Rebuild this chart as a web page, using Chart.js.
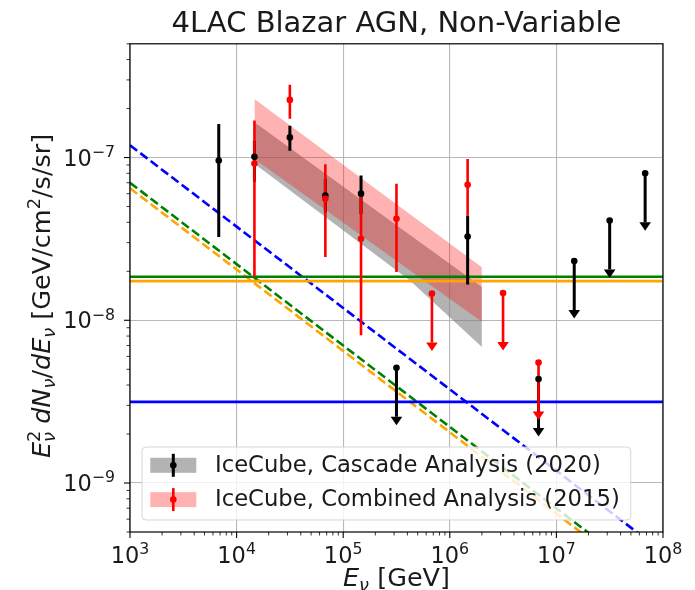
<!DOCTYPE html>
<html>
<head>
<meta charset="utf-8">
<title>4LAC Blazar AGN, Non-Variable</title>
<script src="https://cdn.jsdelivr.net/npm/chart.js@4.4.0/dist/chart.umd.min.js"></script>
<style>
    body { margin: 0; background: #ffffff; }
    #wrap { width: 695px; height: 590px; position: relative; }
</style>
</head>
<body>
<div id="wrap"><canvas id="fluxChart"></canvas></div>
<script>
// data ----------------------------------------------------------------------------

// IceCube cascade analysis (2020): measured bins and upper limits
const cascadeEnergy = [6.8e3, 1.47e4, 3.16e4, 6.8e4, 1.47e5, 1.47e6];
const cascadeFlux   = [9.6e-8, 1.01e-7, 1.33e-7, 5.85e-8, 6.0e-8, 3.27e-8];
const cascadeLow    = [3.25e-8, 7.1e-8, 1.1e-7, 4.6e-8, 4.5e-8, 1.66e-8];
const cascadeHigh   = [1.61e-7, 1.27e-7, 1.57e-7, 7.4e-8, 7.76e-8, 4.4e-8];
const cascadeLimitEnergy = [3.16e5, 6.8e6, 1.47e7, 3.16e7, 6.8e7];
const cascadeLimit       = [5.1e-9, 4.35e-9, 2.31e-8, 4.1e-8, 8.0e-8];

// IceCube combined analysis (2015)
const combinedEnergy = [1.47e4, 3.16e4, 6.8e4, 1.47e5, 3.16e5, 1.47e6];
const combinedFlux   = [9.2e-8, 2.26e-7, 5.58e-8, 3.17e-8, 4.21e-8, 6.8e-8];
const combinedLow    = [1.85e-8, 1.73e-7, 2.45e-8, 8.1e-9, 1.98e-8, 4.4e-8];
const combinedHigh   = [1.69e-7, 2.8e-7, 9.1e-8, 6.0e-8, 6.9e-8, 9.8e-8];
const combinedLimitEnergy = [6.8e5, 3.16e6, 6.8e6];
const combinedLimit       = [1.46e-8, 1.47e-8, 5.5e-9];

// power-law fit bands
const bandEnergy       = [1.47e4, 4.2e5, 2.0e6];
const cascadeBandHigh  = [1.65e-7, 3.35e-8, 1.6e-8];
const cascadeBandLow   = [9.15e-8, 1.76e-8, 6.85e-9];
const combinedBandHigh = [2.29e-7, 4.5e-8, 2.12e-8];
const combinedBandLow  = [9.8e-8, 2.03e-8, 9.8e-9];

// stacking limits (solid) and E^-2.5 model lines (dashed), given at both plot edges
const lineEnergy  = [1e3, 1e8];
const greenLimit  = [1.85e-8, 1.85e-8];
const orangeLimit = [1.74e-8, 1.74e-8];
const blueLimit   = [3.15e-9, 3.15e-9];
const blueModel   = [1.19e-7, 3.76e-10];
const greenModel  = [7.0e-8, 2.21e-10];
const orangeModel = [6.48e-8, 2.05e-10];

// axes
const xRange = [1e3, 1e8];
const yRange = [5e-10, 5e-7];
const xTickExp = [3, 4, 5, 6, 7, 8];
const yTickExp = [-9, -8, -7];

const legendLabels = ['IceCube, Cascade Analysis (2020)', 'IceCube, Combined Analysis (2015)'];

// ---------------------------------------------------------------------------------

const FONT = '"DejaVu Sans", sans-serif';
const limitDrop = 0.5;   // upper limit arrows go down to half the value

function pairs(xs, ys) {
    return xs.map((x, i) => ({ x: x, y: ys[i] }));
}

function isPow10(v) {
    const l = Math.log10(v);
    return Math.abs(l - Math.round(l)) < 1e-6;
}

function gridColor(ctx) {
    return ctx.tick && isPow10(ctx.tick.value) ? 'rgba(176,176,176,0.9)' : 'rgba(0,0,0,0)';
}

function bandSet(data, color, fill, order) {
    return { data: data, borderWidth: 0, pointRadius: 0, backgroundColor: color, fill: fill, order: order };
}

function lineSet(data, color, dashed) {
    return {
        data: data, borderColor: color, borderWidth: 2.6, pointRadius: 0, fill: false,
        borderDash: dashed ? [9, 4] : [], borderCapStyle: 'butt', order: 5
    };
}

// error bars and arrows, drawn just before the marker datasets
function drawErrorBars(chart, xs, lows, highs, color, width) {
    const { ctx, scales: { x, y } } = chart;
    ctx.strokeStyle = color;
    ctx.lineWidth = width;
    xs.forEach((e, i) => {
        const px = x.getPixelForValue(e);
        ctx.beginPath();
        ctx.moveTo(px, y.getPixelForValue(lows[i]));
        ctx.lineTo(px, y.getPixelForValue(highs[i]));
        ctx.stroke();
    });
}

function drawUpperLimits(chart, xs, vals, color, width) {
    const { ctx, scales: { x, y } } = chart;
    ctx.strokeStyle = color;
    ctx.fillStyle = color;
    ctx.lineWidth = width;
    xs.forEach((e, i) => {
        const px = x.getPixelForValue(e);
        const top = y.getPixelForValue(vals[i]);
        const base = y.getPixelForValue(vals[i] * limitDrop);
        ctx.beginPath();
        ctx.moveTo(px, top);
        ctx.lineTo(px, base);
        ctx.stroke();
        ctx.beginPath();
        ctx.moveTo(px - 5.8, base);
        ctx.lineTo(px + 5.8, base);
        ctx.lineTo(px, base + 8.5);
        ctx.closePath();
        ctx.fill();
    });
}

// small mathtext-like writer: parts = [{t, it, small, dy, keep}], dy in units of the size
function partFont(p, size) {
    return (p.it ? 'italic ' : '') + (p.small ? size * 0.7 : size) + 'px ' + FONT;
}

function richWidth(ctx, parts, size) {
    let w = 0;
    parts.forEach(p => {
        ctx.font = partFont(p, size);
        if (!p.keep) w += ctx.measureText(p.t).width;
    });
    return w;
}

function drawRich(ctx, parts, size, x, baseline) {
    let cx = x;
    parts.forEach(p => {
        ctx.font = partFont(p, size);
        ctx.fillText(p.t, cx, baseline + (p.dy || 0) * size);
        if (!p.keep) cx += ctx.measureText(p.t).width;
    });
}

function powParts(exp) {
    return [{ t: '10' }, { t: (exp < 0 ? '\u2212' : '') + Math.abs(exp), small: true, dy: -0.39 }];
}

const xTitle = [{ t: 'E', it: true }, { t: '\u03bd', it: true, small: true, dy: 0.2 }, { t: ' [GeV]' }];
const yTitle = [
    { t: 'E', it: true }, { t: '2', small: true, dy: -0.4, keep: true }, { t: '\u03bd', it: true, small: true, dy: 0.2 },
    { t: ' d', it: true }, { t: 'N', it: true }, { t: '\u03bd', it: true, small: true, dy: 0.2 },
    { t: '/' }, { t: 'dE', it: true }, { t: '\u03bd', it: true, small: true, dy: 0.2 },
    { t: ' [GeV/cm' }, { t: '2', small: true, dy: -0.4 }, { t: '/s/sr]' }
];

const TICK_SIZE = 22.5;
const LABEL_SIZE = 25.5;
const LEGEND_SIZE = 22.7;

function drawLegend(chart) {
    const { ctx, chartArea: a } = chart;
    ctx.save();
    ctx.font = LEGEND_SIZE + 'px ' + FONT;
    const textW = Math.max(...legendLabels.map(t => ctx.measureText(t).width));
    const left = a.left + 12, top = a.bottom - 85, w = 73 + textW + 11, h = 73, r = 4;
    ctx.beginPath();
    ctx.moveTo(left + r, top);
    ctx.arcTo(left + w, top, left + w, top + h, r);
    ctx.arcTo(left + w, top + h, left, top + h, r);
    ctx.arcTo(left, top + h, left, top, r);
    ctx.arcTo(left, top, left + w, top, r);
    ctx.closePath();
    ctx.fillStyle = 'rgba(255,255,255,0.8)';
    ctx.fill();
    ctx.strokeStyle = 'rgba(204,204,204,0.8)';
    ctx.lineWidth = 1;
    ctx.stroke();

    const patch = ['rgba(128,128,128,0.6)', 'rgba(255,0,0,0.3)'];
    const mark = ['#000000', '#ff0000'];
    const widths = [3, 2.6];
    legendLabels.forEach((label, i) => {
        const rowY = top + 18.3 + i * 34.3;
        ctx.fillStyle = patch[i];
        ctx.fillRect(left + 8.3, rowY - 7.5, 46, 15);
        ctx.strokeStyle = mark[i];
        ctx.lineWidth = widths[i];
        ctx.beginPath();
        ctx.moveTo(left + 31.3, rowY - 11.5);
        ctx.lineTo(left + 31.3, rowY + 11.5);
        ctx.stroke();
        ctx.fillStyle = mark[i];
        ctx.beginPath();
        ctx.arc(left + 31.3, rowY, 3.3, 0, Math.PI * 2);
        ctx.fill();
        ctx.fillStyle = '#1a1a1a';
        ctx.font = LEGEND_SIZE + 'px ' + FONT;
        ctx.textBaseline = 'middle';
        ctx.fillText(label, left + 73, rowY + 1);
    });
    ctx.restore();
}

const fluxExtras = {
    id: 'fluxExtras',
    beforeDatasetDraw(chart, args) {
        // black markers are dataset 10: put all error bars right below them
        if (args.index !== 10) return;
        const { ctx, chartArea: a } = chart;
        ctx.save();
        ctx.beginPath();
        ctx.rect(a.left, a.top, a.right - a.left, a.bottom - a.top);
        ctx.clip();
        drawErrorBars(chart, cascadeEnergy, cascadeLow, cascadeHigh, '#000000', 3);
        drawUpperLimits(chart, cascadeLimitEnergy, cascadeLimit, '#000000', 3);
        drawErrorBars(chart, combinedEnergy, combinedLow, combinedHigh, '#ff0000', 2.6);
        drawUpperLimits(chart, combinedLimitEnergy, combinedLimit, '#ff0000', 2.6);
        ctx.restore();
    },
    afterDatasetsDraw(chart) {
        const { ctx, chartArea: a } = chart;
        ctx.save();
        ctx.strokeStyle = '#000000';
        ctx.lineWidth = 1.2;
        ctx.strokeRect(a.left, a.top, a.right - a.left, a.bottom - a.top);
        ctx.restore();
        drawLegend(chart);
    },
    afterDraw(chart) {
        const { ctx, chartArea: a, scales: { x, y } } = chart;
        ctx.save();
        ctx.strokeStyle = '#000000';
        // tick marks, major and minor, outside the frame
        for (let d = 3; d <= 8; d++) {
            for (let m = 1; m <= 9; m++) {
                const v = m * Math.pow(10, d);
                if (v > xRange[1] * 1.0001) break;
                const px = x.getPixelForValue(v);
                ctx.lineWidth = m === 1 ? 1.1 : 0.8;
                ctx.beginPath();
                ctx.moveTo(px, a.bottom);
                ctx.lineTo(px, a.bottom + (m === 1 ? 6 : 3.5));
                ctx.stroke();
            }
        }
        for (let d = -10; d <= -7; d++) {
            for (let m = 1; m <= 9; m++) {
                const v = m * Math.pow(10, d);
                if (v < yRange[0] * 0.9999 || v > yRange[1] * 1.0001) continue;
                const py = y.getPixelForValue(v);
                ctx.lineWidth = m === 1 ? 1.1 : 0.8;
                ctx.beginPath();
                ctx.moveTo(a.left, py);
                ctx.lineTo(a.left - (m === 1 ? 6 : 3.5), py);
                ctx.stroke();
            }
        }
        // tick labels
        ctx.fillStyle = '#1a1a1a';
        ctx.textBaseline = 'alphabetic';
        ctx.textAlign = 'left';
        xTickExp.forEach(e => {
            const parts = powParts(e);
            const w = richWidth(ctx, parts, TICK_SIZE);
            drawRich(ctx, parts, TICK_SIZE, x.getPixelForValue(Math.pow(10, e)) - w / 2, a.bottom + 31);
        });
        yTickExp.forEach(e => {
            const parts = powParts(e);
            const w = richWidth(ctx, parts, TICK_SIZE);
            drawRich(ctx, parts, TICK_SIZE, a.left - 15 - w, y.getPixelForValue(Math.pow(10, e)) + 8);
        });
        // axis titles
        const xw = richWidth(ctx, xTitle, LABEL_SIZE);
        drawRich(ctx, xTitle, LABEL_SIZE, (a.left + a.right) / 2 - xw / 2, 586);
        const yw = richWidth(ctx, yTitle, LABEL_SIZE);
        ctx.translate(50, (a.top + a.bottom) / 2 + 8);
        ctx.rotate(-Math.PI / 2);
        drawRich(ctx, yTitle, LABEL_SIZE, -yw / 2, 0);
        ctx.restore();
    }
};

Chart.defaults.font.family = FONT;

const blackPoints = pairs(cascadeEnergy.concat(cascadeLimitEnergy), cascadeFlux.concat(cascadeLimit));
const redPoints = pairs(combinedEnergy.concat(combinedLimitEnergy), combinedFlux.concat(combinedLimit));

new Chart(document.getElementById('fluxChart'), {
    type: 'line',
    data: {
        datasets: [
            bandSet(pairs(bandEnergy, cascadeBandHigh), 'rgba(128,128,128,0.6)', '+1', 9),
            bandSet(pairs(bandEnergy, cascadeBandLow), 'rgba(0,0,0,0)', false, 9),
            bandSet(pairs(bandEnergy, combinedBandHigh), 'rgba(255,0,0,0.3)', '+1', 8),
            bandSet(pairs(bandEnergy, combinedBandLow), 'rgba(0,0,0,0)', false, 8),
            lineSet(pairs(lineEnergy, greenLimit), '#008000', false),
            lineSet(pairs(lineEnergy, orangeLimit), '#ffa500', false),
            lineSet(pairs(lineEnergy, blueLimit), '#0000ff', false),
            lineSet(pairs(lineEnergy, blueModel), '#0000ff', true),
            lineSet(pairs(lineEnergy, greenModel), '#008000', true),
            lineSet(pairs(lineEnergy, orangeModel), '#ffa500', true),
            { data: blackPoints, showLine: false, pointRadius: 3.3, pointBorderWidth: 0,
              pointBackgroundColor: '#000000', order: 2 },
            { data: redPoints, showLine: false, pointRadius: 3.3, pointBorderWidth: 0,
              pointBackgroundColor: '#ff0000', order: 1 }
        ]
    },
    options: {
        responsive: true,
        maintainAspectRatio: false,
        animation: false,
        events: [],
        layout: { padding: { left: 0, right: 32, top: 0, bottom: 0 } },
        plugins: {
            legend: { display: false },
            tooltip: { enabled: false },
            title: {
                display: true,
                fullSize: false,
                text: '4LAC Blazar AGN, Non-Variable',
                color: '#1a1a1a',
                font: { size: 29, weight: 'normal' },
                padding: { top: 7, bottom: 2 }
            }
        },
        scales: {
            x: {
                type: 'logarithmic',
                min: xRange[0],
                max: xRange[1],
                ticks: { display: false },
                grid: { color: gridColor, lineWidth: 1.1, drawTicks: false },
                border: { display: false },
                afterFit: s => { s.height = 58; }
            },
            y: {
                type: 'logarithmic',
                min: yRange[0],
                max: yRange[1],
                ticks: { display: false },
                grid: { color: gridColor, lineWidth: 1.1, drawTicks: false },
                border: { display: false },
                afterFit: s => { s.width = 130; }
            }
        }
    },
    plugins: [fluxExtras]
});
</script>
</body>
</html>
